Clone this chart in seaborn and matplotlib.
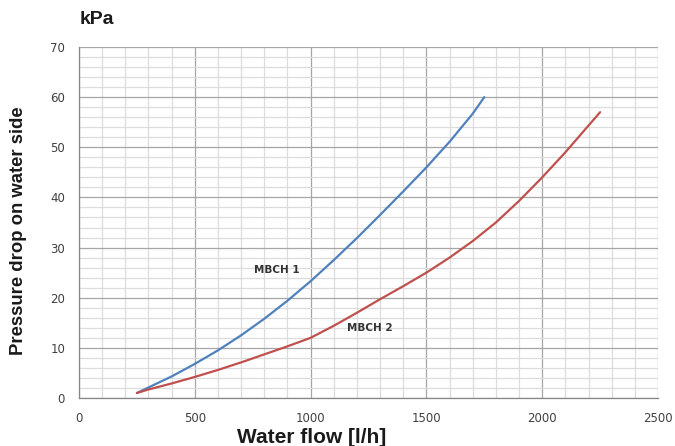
import matplotlib
matplotlib.use("Agg")
import matplotlib.pyplot as plt
import seaborn as sns
import pandas as pd
from matplotlib.ticker import MultipleLocator

# Data
mbch1_flow = [250, 300, 400, 500, 600, 700, 800, 900, 1000, 1100, 1200, 1300, 1400, 1500, 1600, 1700, 1750]
mbch1_dp = [1.0, 2.1, 4.3, 6.8, 9.5, 12.5, 15.8, 19.4, 23.3, 27.5, 31.9, 36.5, 41.2, 46.0, 51.1, 56.7, 60.0]
mbch2_flow = [250, 300, 400, 500, 600, 700, 800, 900, 1000, 1100, 1200, 1300, 1400, 1500, 1600, 1700, 1800, 1900, 2000, 2100, 2250]
mbch2_dp = [1.0, 1.7, 2.9, 4.2, 5.6, 7.1, 8.7, 10.3, 12.0, 14.4, 17.0, 19.7, 22.3, 25.0, 28.0, 31.3, 35.0, 39.3, 44.0, 49.0, 57.0]
series_names = ["MBCH 1", "MBCH 2"]
colors = ["#4F81BD", "#C0504D"]

df = pd.concat([
    pd.DataFrame({"flow": mbch1_flow, "dp": mbch1_dp, "model": series_names[0]}),
    pd.DataFrame({"flow": mbch2_flow, "dp": mbch2_dp, "model": series_names[1]}),
])

sns.set_style("white")
plt.rcParams["font.family"] = ["DejaVu Sans"]

fig = plt.figure(figsize=(6.75, 4.46), dpi=100)
ax = fig.add_axes([79 / 675, 48 / 446, 579 / 675, 351 / 446])

sns.lineplot(data=df, x="flow", y="dp", hue="model", palette=colors,
             linewidth=1.6, legend=False, ax=ax, sort=False, estimator=None)
for ln in ax.get_lines():
    ln.set_solid_joinstyle("round")

ax.set_xlim(0, 2500)
ax.set_ylim(0, 70)
ax.xaxis.set_major_locator(MultipleLocator(500))
ax.xaxis.set_minor_locator(MultipleLocator(100))
ax.yaxis.set_major_locator(MultipleLocator(10))
ax.yaxis.set_minor_locator(MultipleLocator(2))
ax.grid(which="major", color="#a6a6a6", linewidth=0.9)
ax.grid(which="minor", color="#dcdcdc", linewidth=0.9)
ax.set_axisbelow(True)

for s in ["top", "right"]:
    ax.spines[s].set_visible(False)
for s in ["left", "bottom"]:
    ax.spines[s].set_color("#868686")
    ax.spines[s].set_linewidth(0.9)

ax.tick_params(axis="both", which="major", length=4, width=0.8, color="#868686",
               labelsize=8.5, labelcolor="#404040", direction="out")
ax.tick_params(axis="x", pad=6)
ax.tick_params(axis="y", pad=6)
ax.tick_params(which="minor", length=0)

bold_font = ["Liberation Sans", "DejaVu Sans"]
ax.set_xlabel("Water flow [l/h]", fontsize=15, fontweight="bold", family=bold_font,
              color="#1a1a1a", labelpad=1)
ax.xaxis.set_label_coords(0.402, -0.085)
ax.set_ylabel("Pressure drop on water side", fontsize=13.3, fontweight="bold",
              family=bold_font, color="#1a1a1a")
ax.yaxis.set_label_coords(-0.089, 0.478)
fig.text(80 / 675, 1 - 20 / 446, "kPa", fontsize=14, fontweight="bold", family=bold_font,
         color="#1a1a1a", ha="left", va="center")

ax.text(855, 25.6, series_names[0], fontsize=7.5, fontweight="bold", color="#333333",
        ha="center", va="center")
ax.text(1255, 14.0, series_names[1], fontsize=7.5, fontweight="bold", color="#333333",
        ha="center", va="center")

fig.savefig("out.png", dpi=100)
